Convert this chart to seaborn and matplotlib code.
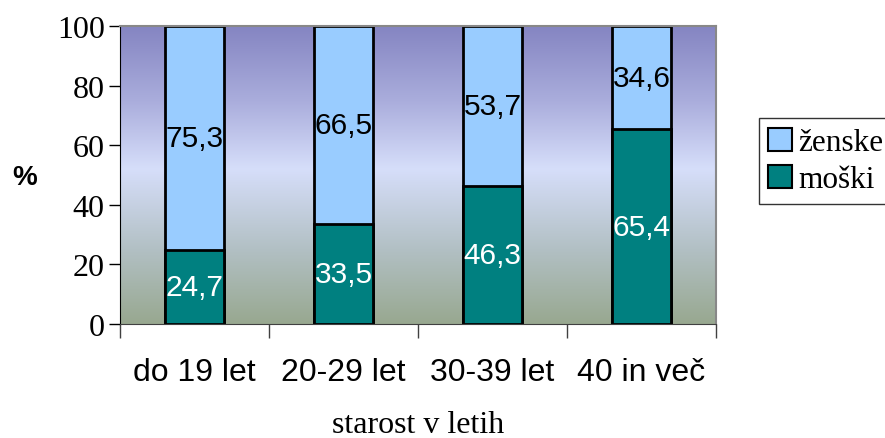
import numpy as np
import pandas as pd
import matplotlib
matplotlib.use("Agg")
import matplotlib.pyplot as plt
from matplotlib.colors import LinearSegmentedColormap
from matplotlib.patches import Patch
from matplotlib.ticker import FixedLocator
import seaborn as sns

categories = ["do 19 let", "20-29 let", "30-39 let", "40 in več"]
moski = [24.7, 33.5, 46.3, 65.4]
zenske = [75.3, 66.5, 53.7, 34.6]
moski_labels = ["24,7", "33,5", "46,3", "65,4"]
zenske_labels = ["75,3", "66,5", "53,7", "34,6"]
yticks = [0, 20, 40, 60, 80, 100]

sns.set_style("white")
plt.rcParams["font.family"] = ["Liberation Sans", "DejaVu Sans"]
plt.rcParams["text.color"] = "black"
plt.rcParams["xtick.color"] = "black"
plt.rcParams["ytick.color"] = "black"
plt.rcParams["axes.labelcolor"] = "black"

col_m = "#008080"
col_z = "#99CCFF"

df = pd.DataFrame({"starost": categories, "moski": moski, "zenske": zenske})
df["skupaj"] = df["moski"] + df["zenske"]

fig = plt.figure(figsize=(8.85, 4.39), dpi=100)
ax = fig.add_axes([120/885, 1 - 325/439, (716-120)/885, (325-27)/439])

# gradient background
cmap = LinearSegmentedColormap.from_list(
    "bg", [(0.0, "#98A890"), (0.25, "#B2C0C4"), (0.52, "#D6DEFA"), (0.75, "#AAADDC"), (1.0, "#8585C2")])
grad = np.linspace(0, 1, 256).reshape(-1, 1)
ax.imshow(grad, cmap=cmap, aspect="auto", origin="lower",
          extent=[-0.5, 3.5, 0, 100], zorder=0)

sns.barplot(data=df, x="starost", y="skupaj", color=col_z, width=0.4,
            edgecolor="black", linewidth=2, ax=ax, zorder=2, saturation=1)
sns.barplot(data=df, x="starost", y="moski", color=col_m, width=0.4,
            edgecolor="black", linewidth=2, ax=ax, zorder=3, saturation=1)

for i in range(len(categories)):
    ax.text(i, moski[i] / 2, moski_labels[i], ha="center", va="center",
            color="white", fontsize=21.5, zorder=5)
    ax.text(i, moski[i] + zenske[i] / 2, zenske_labels[i], ha="center", va="center",
            color="black", fontsize=21.5, zorder=5)

ax.set_xlim(-0.5, 3.5)
ax.set_ylim(0, 100)
ax.set_yticks(yticks)
ax.set_yticklabels([str(v) for v in yticks], fontfamily="Liberation Serif", fontsize=23)
ax.tick_params(axis="y", direction="out", length=8, width=1, color="black", left=True, pad=3)

ax.set_xticks(range(len(categories)))
ax.set_xticklabels(categories, fontsize=23)
ax.tick_params(axis="x", which="major", length=0, pad=24)
ax.xaxis.set_minor_locator(FixedLocator([-0.5, 0.5, 1.5, 2.5, 3.5]))
ax.tick_params(axis="x", which="minor", direction="out", length=10, width=1, color="#404040", bottom=True)

ax.set_xlabel("starost v letih", fontfamily="Liberation Serif", fontsize=23, labelpad=16)
ax.set_ylabel("")
fig.text(25/885, 1 - 178/439, "%", fontsize=20, fontweight="bold", ha="center", va="center")

for s in ["top", "right"]:
    ax.spines[s].set_color("#888888")
    ax.spines[s].set_linewidth(1.5)
ax.spines["left"].set_color("black")
ax.spines["bottom"].set_color("#404040")
for s in ax.spines.values():
    s.set_visible(True)
    s.set_zorder(6)

handles = [Patch(facecolor=col_z, edgecolor="black", linewidth=1.5, label="ženske"),
           Patch(facecolor=col_m, edgecolor="black", linewidth=1.5, label="moški")]
leg = fig.legend(handles=handles, loc="center left", bbox_to_anchor=(759/885, 1 - 162/439),
                 prop={"family": "Liberation Serif", "size": 22.5}, frameon=True, fancybox=False,
                 edgecolor="black", handlelength=0.75, handleheight=0.75, handletextpad=0.2,
                 borderpad=0.3, labelspacing=0.25, borderaxespad=0)
leg.get_frame().set_linewidth(1.0)

fig.savefig("out.png", dpi=100)
